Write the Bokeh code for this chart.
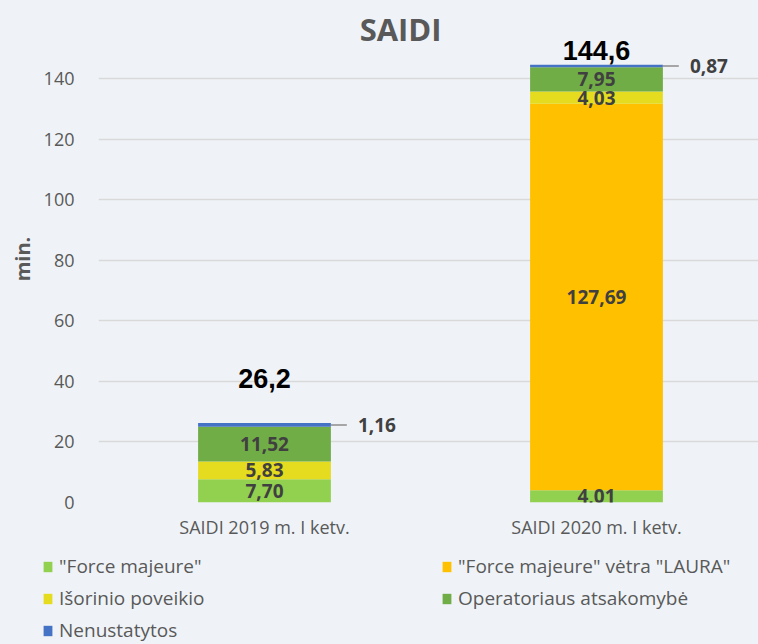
from bokeh.plotting import figure
from bokeh.models import ColumnDataSource, Range1d, FixedTicker, Legend, LegendItem
from bokeh.core.properties import value
from bokeh.embed import file_html
from bokeh.resources import INLINE

# ---- data ----
categories = ["SAIDI 2019 m. I ketv.", "SAIDI 2020 m. I ketv."]
series_names = ['"Force majeure"', '"Force majeure" vėtra "LAURA"',
                "Išorinio poveikio", "Operatoriaus atsakomybė", "Nenustatytos"]
force_majeure = [7.70, 4.01]
laura = [0.0, 127.69]
isorinio = [5.83, 4.03]
operatoriaus = [11.52, 7.95]
nenustatytos = [1.16, 0.87]
totals = [26.2, 144.6]
y_ticks = [0, 20, 40, 60, 80, 100, 120, 140]
title_text = "SAIDI"
y_label = "min."

# ---- style ----
colors = ["#92D050", "#FFC000", "#E5DC1F", "#70AD47", "#4472C4"]
BG = "#EFF3F7"
GRAY = "#595959"
DARK = "#404040"
FONT = value("Open Sans")

xs = list(range(len(categories)))
keys = ["fm", "laura", "isor", "oper", "nen"]
series = [force_majeure, laura, isorinio, operatoriaus, nenustatytos]
src = ColumnDataSource(dict(x=xs, **{k: s for k, s in zip(keys, series)}))

p = figure(width=758, height=548, output_backend="svg", toolbar_location=None,
           x_range=Range1d(-0.5, 1.488), y_range=Range1d(0, 160.8),
           min_border_left=98, min_border_right=0, min_border_top=15,
           min_border_bottom=46)
p.background_fill_color = BG
p.border_fill_color = BG
p.outline_line_color = None

BAR_W = 0.4
rs = p.vbar_stack(keys, x="x", width=BAR_W, color=colors, line_color=None, source=src)

def fmt(v, d=2):
    return f"{v:.{d}f}".replace(".", ",")

# inner labels
lx, ly, lt = [], [], []
bottoms = [0.0] * len(xs)
for s in series[:-1]:
    for i, v in enumerate(s):
        if v > 0:
            lx.append(xs[i]); ly.append(bottoms[i] + v / 2); lt.append(fmt(v))
        bottoms[i] += v
p.text(x=lx, y=ly, text=lt, text_align="center", text_baseline="middle",
       text_font=FONT, text_font_style="bold", text_font_size="19px", text_color=DARK)

# outside labels for the top (blue) series with leader lines
bx = [x + BAR_W / 2 for x in xs]
by = [bottoms[i] + nenustatytos[i] / 2 for i in range(len(xs))]
p.segment(x0=bx, y0=by, x1=[b + 0.048 for b in bx], y1=by, line_color="#A6A6A6", line_width=2)
p.text(x=bx, y=by, text=[fmt(v) for v in nenustatytos], x_offset=27,
       text_align="left", text_baseline="middle",
       text_font=FONT, text_font_style="bold", text_font_size="19px", text_color=DARK)

# totals
tops = [bottoms[i] + nenustatytos[i] for i in range(len(xs))]
p.text(x=xs, y=tops, text=[fmt(t, 1) for t in totals], y_offset=[-45, -14],
       text_align="center", text_baseline="middle",
       text_font=value("Liberation Sans"), text_font_style="bold",
       text_font_size="27px", text_color="#000000")

# title
p.text(x=[0.41], y=[156.5], text=[title_text], text_align="center", text_baseline="middle",
       text_font=FONT, text_font_style="bold", text_font_size="31px", text_color=GRAY)

# axes
p.xaxis.ticker = FixedTicker(ticks=xs)
p.xaxis.major_label_overrides = {x: c for x, c in zip(xs, categories)}
p.yaxis.ticker = FixedTicker(ticks=y_ticks)
for ax in (p.xaxis, p.yaxis):
    ax.axis_line_color = None
    ax.major_tick_line_color = None
    ax.minor_tick_line_color = None
    ax.major_label_text_font = "Open Sans"
    ax.major_label_text_font_size = "18px"
    ax.major_label_text_color = GRAY
p.xaxis.major_label_standoff = 6
p.yaxis.major_label_standoff = 18
p.yaxis.axis_label = y_label
p.yaxis.axis_label_text_font = "Open Sans"
p.yaxis.axis_label_text_font_style = "bold"
p.yaxis.axis_label_text_font_size = "20px"
p.yaxis.axis_label_text_color = GRAY
p.yaxis.axis_label_standoff = 5

p.xgrid.grid_line_color = None
p.ygrid.ticker = FixedTicker(ticks=y_ticks)
p.ygrid.grid_line_color = "#D9D9D9"
p.ygrid.grid_line_width = 1.5

# ---- separate legend figure (own root, so its frame is not aligned to the chart) ----
lf = figure(width=758, height=96, output_backend="svg", toolbar_location=None,
            x_range=Range1d(0, 1), y_range=Range1d(0, 1),
            x_axis_type=None, y_axis_type=None,
            min_border=0, min_border_left=0, min_border_right=0,
            min_border_top=0, min_border_bottom=0)
lf.background_fill_color = BG
lf.border_fill_color = BG
lf.outline_line_color = None
lf.grid.visible = False
# zero-size stand-ins that only carry the legend swatch colours
dummy = [lf.vbar(x=[0.5], top=[0], bottom=[0], width=0, color=c, line_color=None)
         for c in colors]

order = [0, 2, 4, 1, 3]  # column-major: left column, then right column
items = [LegendItem(label=series_names[k], renderers=[dummy[k]]) for k in order]
legend = Legend(items=items, ncols=2, location=(42, 1),
                padding=0, margin=0, spacing=6,
                label_height=21, glyph_height=13, glyph_width=11,
                label_standoff=6, label_width=376,
                label_text_font="Open Sans", label_text_font_size="19px",
                label_text_color=GRAY,
                background_fill_alpha=0, border_line_color=None)
lf.add_layout(legend, "center")

# page background matches the chart so no seam shows between the two roots
template = """
{% block preamble %}
<style>html, body { background: #EFF3F7; }</style>
{% endblock %}
"""
open("out.html", "w").write(file_html([p, lf], INLINE, template=template))
